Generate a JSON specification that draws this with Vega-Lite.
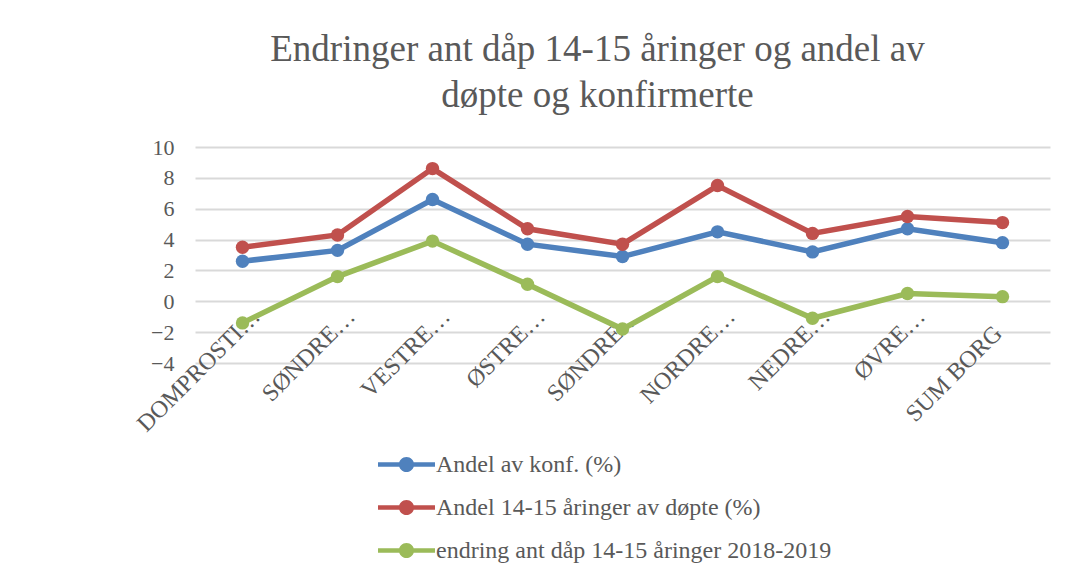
{
  "$schema": "https://vega.github.io/schema/vega-lite/v6.json",
  "width": 855,
  "height": 216,
  "autosize": {"type": "none"},
  "padding": {"left": 195, "top": 147, "right": 17, "bottom": 225},
  "background": "white",
  "config": {
    "view": {"stroke": null},
    "font": "Liberation Serif"
  },
  "title": {
    "text": ["Endringer ant dåp 14-15 åringer og andel av", "døpte og konfirmerte"],
    "font": "Liberation Serif",
    "fontSize": 37,
    "fontWeight": "normal",
    "color": "#595959",
    "lineHeight": 46,
    "anchor": "middle",
    "frame": "group",
    "dx": -25,
    "offset": 21
  },
  "data": {
    "values": [
      {"prosti": "DOMPROSTIET", "serie": "Andel av konf. (%)", "verdi": 2.6},
      {"prosti": "SØNDRE BORGESYSSEL", "serie": "Andel av konf. (%)", "verdi": 3.3},
      {"prosti": "VESTRE BORGESYSSEL", "serie": "Andel av konf. (%)", "verdi": 6.6},
      {"prosti": "ØSTRE BORGESYSSEL", "serie": "Andel av konf. (%)", "verdi": 3.7},
      {"prosti": "SØNDRE FOLLO", "serie": "Andel av konf. (%)", "verdi": 2.9},
      {"prosti": "NORDRE FOLLO", "serie": "Andel av konf. (%)", "verdi": 4.5},
      {"prosti": "NEDRE ROMERIKE", "serie": "Andel av konf. (%)", "verdi": 3.2},
      {"prosti": "ØVRE ROMERIKE", "serie": "Andel av konf. (%)", "verdi": 4.7},
      {"prosti": "SUM BORG", "serie": "Andel av konf. (%)", "verdi": 3.8},
      {"prosti": "DOMPROSTIET", "serie": "Andel 14-15 åringer av døpte (%)", "verdi": 3.5},
      {"prosti": "SØNDRE BORGESYSSEL", "serie": "Andel 14-15 åringer av døpte (%)", "verdi": 4.3},
      {"prosti": "VESTRE BORGESYSSEL", "serie": "Andel 14-15 åringer av døpte (%)", "verdi": 8.6},
      {"prosti": "ØSTRE BORGESYSSEL", "serie": "Andel 14-15 åringer av døpte (%)", "verdi": 4.7},
      {"prosti": "SØNDRE FOLLO", "serie": "Andel 14-15 åringer av døpte (%)", "verdi": 3.7},
      {"prosti": "NORDRE FOLLO", "serie": "Andel 14-15 åringer av døpte (%)", "verdi": 7.5},
      {"prosti": "NEDRE ROMERIKE", "serie": "Andel 14-15 åringer av døpte (%)", "verdi": 4.4},
      {"prosti": "ØVRE ROMERIKE", "serie": "Andel 14-15 åringer av døpte (%)", "verdi": 5.5},
      {"prosti": "SUM BORG", "serie": "Andel 14-15 åringer av døpte (%)", "verdi": 5.1},
      {"prosti": "DOMPROSTIET", "serie": "endring ant dåp 14-15 åringer 2018-2019", "verdi": -1.4},
      {"prosti": "SØNDRE BORGESYSSEL", "serie": "endring ant dåp 14-15 åringer 2018-2019", "verdi": 1.6},
      {"prosti": "VESTRE BORGESYSSEL", "serie": "endring ant dåp 14-15 åringer 2018-2019", "verdi": 3.9},
      {"prosti": "ØSTRE BORGESYSSEL", "serie": "endring ant dåp 14-15 åringer 2018-2019", "verdi": 1.1},
      {"prosti": "SØNDRE FOLLO", "serie": "endring ant dåp 14-15 åringer 2018-2019", "verdi": -1.8},
      {"prosti": "NORDRE FOLLO", "serie": "endring ant dåp 14-15 åringer 2018-2019", "verdi": 1.6},
      {"prosti": "NEDRE ROMERIKE", "serie": "endring ant dåp 14-15 åringer 2018-2019", "verdi": -1.1},
      {"prosti": "ØVRE ROMERIKE", "serie": "endring ant dåp 14-15 åringer 2018-2019", "verdi": 0.5},
      {"prosti": "SUM BORG", "serie": "endring ant dåp 14-15 åringer 2018-2019", "verdi": 0.3}
    ]
  },
  "encoding": {
    "x": {
      "field": "prosti",
      "type": "nominal",
      "sort": ["DOMPROSTIET", "SØNDRE BORGESYSSEL", "VESTRE BORGESYSSEL", "ØSTRE BORGESYSSEL", "SØNDRE FOLLO", "NORDRE FOLLO", "NEDRE ROMERIKE", "ØVRE ROMERIKE", "SUM BORG"],
      "scale": {"type": "point", "padding": 0.5},
      "axis": {
        "title": null,
        "domain": false,
        "ticks": false,
        "grid": false,
        "offset": -62,
        "labelAngle": -45,
        "labelAlign": "right",
        "labelBaseline": "top",
        "labelPadding": {"condition": {"test": "datum.label == 'SUM BORG'", "value": 20}, "value": 3},
        "labelOffset": {"condition": {"test": "datum.label == 'SUM BORG'", "value": -13}, "value": 5},
        "labelFont": "Liberation Serif",
        "labelFontSize": 24,
        "labelColor": "#595959",
        "labelExpr": "datum.label == 'SUM BORG' ? datum.label : (datum.label == 'DOMPROSTIET' ? 'DOMPROSTI…' : split(datum.label, ' ')[0] + '…')"
      }
    },
    "y": {
      "field": "verdi",
      "type": "quantitative",
      "scale": {"domain": [-4, 10], "nice": false, "zero": false},
      "axis": {
        "title": null,
        "values": [-4, -2, 0, 2, 4, 6, 8, 10],
        "domain": false,
        "ticks": false,
        "grid": true,
        "gridColor": "#D9D9D9",
        "gridWidth": 2,
        "labelPadding": 21,
        "labelFont": "Liberation Serif",
        "labelFontSize": 22,
        "labelColor": "#595959"
      }
    },
    "color": {
      "field": "serie",
      "type": "nominal",
      "sort": ["Andel av konf. (%)", "Andel 14-15 åringer av døpte (%)", "endring ant dåp 14-15 åringer 2018-2019"],
      "scale": {
        "domain": ["Andel av konf. (%)", "Andel 14-15 åringer av døpte (%)", "endring ant dåp 14-15 åringer 2018-2019"],
        "range": ["#4F81BD", "#C0504D", "#9BBB59"]
      },
      "legend": {
        "title": null,
        "orient": "none",
        "direction": "vertical",
        "legendX": 197,
        "legendY": 303,
        "symbolType": "M-2,-0.16L2,-0.16L2,0.16L-2,0.16Z M-0.53,0A0.53,0.53,0,1,1,0.53,0A0.53,0.53,0,1,1,-0.53,0Z",
        "symbolSize": 812,
        "symbolStrokeWidth": 0,
        "symbolOpacity": 1,
        "labelOffset": 15,
        "labelFont": "Liberation Serif",
        "labelFontSize": 24,
        "labelColor": "#595959",
        "labelLimit": 600,
        "rowPadding": 16,
        "encode": {
          "symbols": {"update": {"fill": {"scale": "color", "field": "value"}, "strokeWidth": {"value": 0}}}
        }
      }
    }
  },
  "layer": [
    {"mark": {"type": "line", "strokeWidth": 5.5}},
    {"mark": {"type": "point", "filled": true, "size": 180, "opacity": 1}}
  ]
}
